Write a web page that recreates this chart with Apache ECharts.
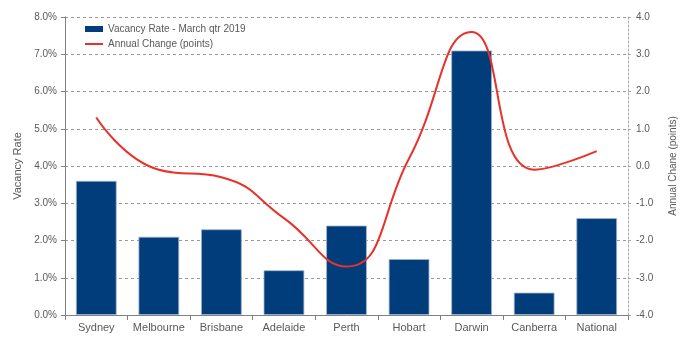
<!DOCTYPE html>
<html><head><meta charset="utf-8">
<script src="https://cdn.jsdelivr.net/npm/echarts@6/dist/echarts.min.js"></script>
<style>html,body{margin:0;padding:0;background:#fff}#c{width:687px;height:338px}</style>
</head><body><div id="c"></div>
<script>
const categories = ['Sydney','Melbourne','Brisbane','Adelaide','Perth','Hobart','Darwin','Canberra','National'];
const vacancyRate = [3.6, 2.1, 2.3, 1.2, 2.4, 1.5, 7.1, 0.6, 2.6];
const annualChange = [1.3, -0.1, -0.3, -1.4, -2.7, 0.2, 3.6, -0.1, 0.4];
const leftTicks = {min: 0, max: 8, interval: 1};
const rightTicks = {min: -4, max: 4, interval: 1};

const font = 'Liberation Sans, Arial, sans-serif';
const chart = echarts.init(document.getElementById('c'));
chart.setOption({
  animation: false,
  textStyle: {fontFamily: font},
  grid: {left: 65, right: 59, top: 17, bottom: 23},
  legend: {
    orient: 'vertical', left: 80, top: 19, itemGap: 5, itemWidth: 18, itemHeight: 6,
    textStyle: {fontFamily: font, fontSize: 10, color: '#595959'},
    data: [
      {name: 'Vacancy Rate - March qtr 2019', icon: 'rect', itemStyle: {borderWidth: 0}},
      {name: 'Annual Change (points)', icon: 'path://M0,0 L18,0 L18,2 L0,2 Z', itemStyle: {borderWidth: 0}}
    ]
  },
  xAxis: {
    type: 'category', data: categories,
    axisLine: {lineStyle: {color: '#808080'}},
    axisTick: {show: true, interval: 0, alignWithLabel: false, lineStyle: {color: '#808080'}},
    axisLabel: {interval: 0, color: '#595959', fontSize: 11, fontFamily: font, margin: 7}
  },
  yAxis: [
    {
      type: 'value', min: leftTicks.min, max: leftTicks.max, interval: leftTicks.interval,
      name: 'Vacancy Rate', nameLocation: 'middle', nameGap: 42,
      nameTextStyle: {color: '#595959', fontSize: 11, fontFamily: font},
      axisLine: {show: true, lineStyle: {color: '#808080'}},
      axisTick: {show: true, length: 4, lineStyle: {color: '#808080'}},
      axisLabel: {color: '#595959', fontSize: 10, fontFamily: font, formatter: v => v.toFixed(1) + '%'},
      splitLine: {show: true, lineStyle: {color: '#999', type: [3, 3]}}
    },
    {
      type: 'value', min: rightTicks.min, max: rightTicks.max, interval: rightTicks.interval,
      name: 'Annual Chane (points)', nameLocation: 'middle', nameGap: 40, nameRotate: 90,
      nameTextStyle: {color: '#595959', fontSize: 10, fontFamily: font},
      axisLine: {show: true, lineStyle: {color: '#aaa', type: [2, 2]}},
      axisTick: {show: true, length: 3, lineStyle: {color: '#aaa'}},
      axisLabel: {color: '#595959', fontSize: 10, fontFamily: font, formatter: v => v.toFixed(1)},
      splitLine: {show: false}
    }
  ],
  series: [
    {
      name: 'Vacancy Rate - March qtr 2019', type: 'bar', data: vacancyRate, barWidth: '65%',
      itemStyle: {color: '#003D7A', borderColor: '#9fb3cc', borderWidth: 0.8}
    },
    {
      name: 'Annual Change (points)', type: 'line', yAxisIndex: 1, data: annualChange,
      smooth: 0.5, symbol: 'none', lineStyle: {color: '#E8312A', width: 2},
      itemStyle: {color: '#E8312A'}
    }
  ]
});
</script></body></html>
